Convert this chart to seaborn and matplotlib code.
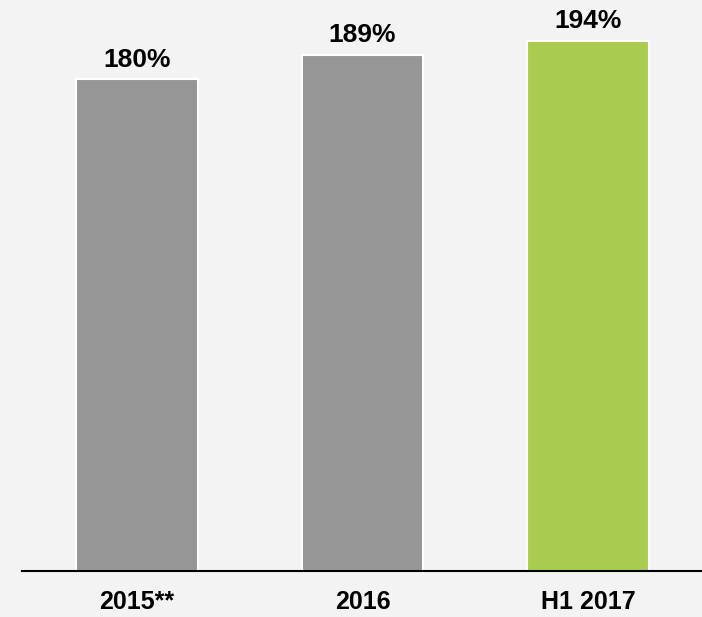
import pandas as pd
import matplotlib.pyplot as plt
import seaborn as sns

# Chart data
periods = ['2015**', '2016', 'H1 2017']
ratios = [180, 189, 194]
bar_colors = ['#969696', '#969696', '#a9cc50']

df = pd.DataFrame({'period': periods, 'ratio': ratios})

sns.set_style('white')
plt.rcParams['font.family'] = ['Liberation Sans', 'DejaVu Sans']

fig = plt.figure(figsize=(7.02, 6.17), dpi=100)
fig.patch.set_facecolor('#f3f3f3')
ax = fig.add_axes([0.031, 0.0746, 0.969, 0.9254])
ax.set_facecolor('#f3f3f3')

sns.barplot(data=df, x='period', y='ratio', hue='period', palette=bar_colors,
            saturation=1, width=0.54, edgecolor='white', linewidth=1.5,
            legend=False, ax=ax)

# Value labels above the bars
for i, v in enumerate(ratios):
    ax.annotate(f'{v}%', (i, v), xytext=(0, 5.5), textcoords='offset points',
                ha='center', va='bottom', fontsize=19, fontweight='bold',
                color='black')

ax.set_xlim(-0.51, 2.505)
ax.set_ylim(0, 209)
ax.set_xlabel('')
ax.set_ylabel('')
ax.set_yticks([])
ax.tick_params(axis='x', length=0, pad=14, labelsize=18, labelcolor='black')
for lbl in ax.get_xticklabels():
    lbl.set_fontweight('bold')

for s in ['top', 'right', 'left']:
    ax.spines[s].set_visible(False)
ax.spines['bottom'].set_color('black')
ax.spines['bottom'].set_linewidth(1.5)

fig.savefig('out.png', dpi=100, facecolor=fig.get_facecolor())
